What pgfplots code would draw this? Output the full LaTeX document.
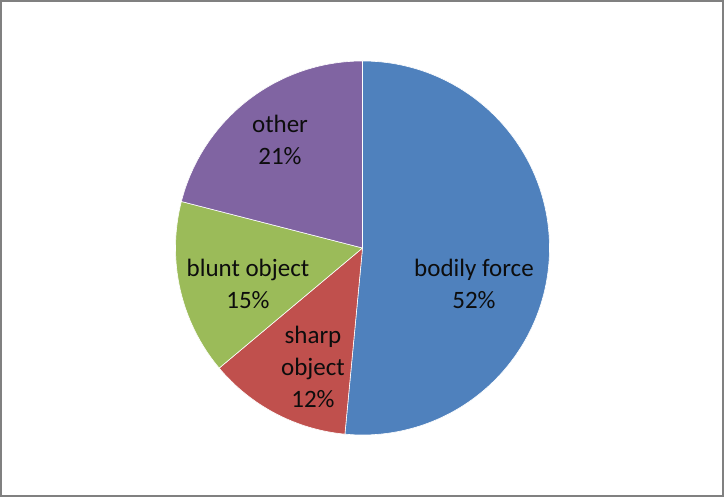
\documentclass[border=0pt]{standalone}
\usepackage{pgfplots}
\pgfplotsset{compat=1.18}
\usepackage{fontspec}
\setmainfont{Carlito}
\definecolor{cblue}{HTML}{4F81BD}
\definecolor{cred}{HTML}{C0504D}
\definecolor{cgreen}{HTML}{9BBB59}
\definecolor{cpurple}{HTML}{8064A2}
\definecolor{frame}{HTML}{808080}
% slice values (percent), clockwise from 12 o'clock
\def\vA{51.5}% bodily force
\def\vB{12.4}% sharp object
\def\vC{15.1}% blunt object
\def\vD{21.0}% other
\pgfmathsetmacro{\aA}{90}
\pgfmathsetmacro{\aB}{\aA-3.6*\vA}
\pgfmathsetmacro{\aC}{\aB-3.6*\vB}
\pgfmathsetmacro{\aD}{\aC-3.6*\vC}
\pgfmathsetmacro{\aE}{\aD-3.6*\vD}
\def\R{187bp}
\begin{document}
\begin{tikzpicture}
\begin{axis}[
  scale only axis, width=724bp, height=497bp,
  xmin=0, xmax=724, ymin=0, ymax=497,
  hide axis, clip=false,
]
\fill[white] (rel axis cs:0,0) rectangle (rel axis cs:1,1);
\filldraw[fill=cblue, draw=white, line width=0.6bp] (axis cs:362.5,249) -- ++(\aA:\R) arc[start angle=\aA, end angle=\aB, radius=\R] -- cycle;
\filldraw[fill=cred, draw=white, line width=0.6bp] (axis cs:362.5,249) -- ++(\aB:\R) arc[start angle=\aB, end angle=\aC, radius=\R] -- cycle;
\filldraw[fill=cgreen, draw=white, line width=0.6bp] (axis cs:362.5,249) -- ++(\aC:\R) arc[start angle=\aC, end angle=\aD, radius=\R] -- cycle;
\filldraw[fill=cpurple, draw=white, line width=0.6bp] (axis cs:362.5,249) -- ++(\aD:\R) arc[start angle=\aD, end angle=\aE, radius=\R] -- cycle;
\begin{scope}[every node/.style={align=center, font=\fontsize{25bp}{32bp}\selectfont, text=black!95}]
\node at (axis cs:474,213) {bodily force\\52\%};
\node at (axis cs:313,130) {sharp\\object\\12\%};
\node at (axis cs:248,213) {blunt object\\15\%};
\node at (axis cs:280,357) {other\\21\%};
\end{scope}
\draw[frame, line width=2bp] (axis cs:1,1) rectangle (axis cs:723,496);
\end{axis}
\end{tikzpicture}
\end{document}
